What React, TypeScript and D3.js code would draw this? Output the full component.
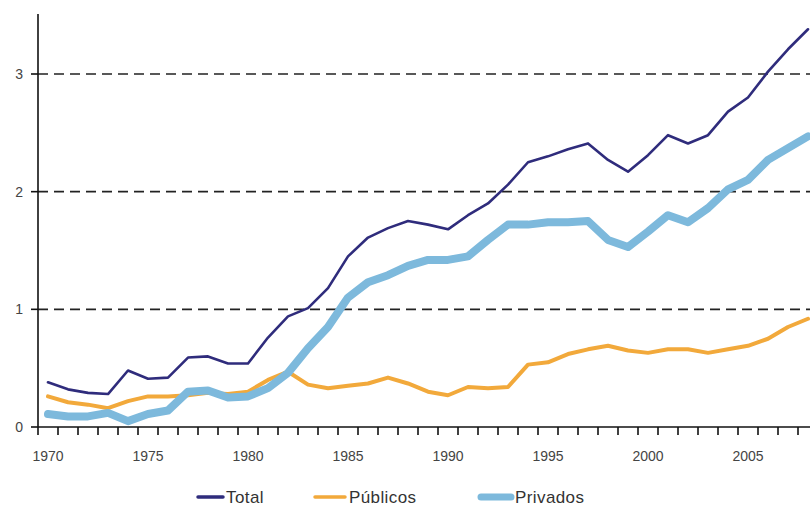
import React from "react";
import * as d3 from "d3";

const years = d3.range(1970, 2009);
const total = [0.38, 0.32, 0.29, 0.28, 0.48, 0.41, 0.42, 0.59, 0.6, 0.54, 0.54, 0.76, 0.94, 1.01, 1.18, 1.45, 1.61, 1.69, 1.75, 1.72, 1.68, 1.8, 1.9, 2.06, 2.25, 2.3, 2.36, 2.41, 2.27, 2.17, 2.31, 2.48, 2.41, 2.48, 2.68, 2.8, 3.02, 3.21, 3.38];
const publicos = [0.26, 0.21, 0.19, 0.16, 0.22, 0.26, 0.26, 0.27, 0.29, 0.28, 0.3, 0.4, 0.47, 0.36, 0.33, 0.35, 0.37, 0.42, 0.37, 0.3, 0.27, 0.34, 0.33, 0.34, 0.53, 0.55, 0.62, 0.66, 0.69, 0.65, 0.63, 0.66, 0.66, 0.63, 0.66, 0.69, 0.75, 0.85, 0.92];
const privados = [0.11, 0.09, 0.09, 0.12, 0.05, 0.11, 0.14, 0.3, 0.31, 0.25, 0.26, 0.33, 0.46, 0.67, 0.85, 1.1, 1.23, 1.29, 1.37, 1.42, 1.42, 1.45, 1.59, 1.72, 1.72, 1.74, 1.74, 1.75, 1.59, 1.53, 1.66, 1.8, 1.74, 1.86, 2.02, 2.1, 2.27, 2.37, 2.47];
const yTicks = [0, 1, 2, 3];
const xLabels = [1970, 1975, 1980, 1985, 1990, 1995, 2000, 2005];

const series = [
  { name: "Total", values: total, color: "#2f2c7c", width: 2.6, legendWidth: 3.5 },
  { name: "Públicos", values: publicos, color: "#f2a93b", width: 4, legendWidth: 3.5 },
  { name: "Privados", values: privados, color: "#7db9dc", width: 8, legendWidth: 7 },
];
const drawOrder = [1, 2, 0];
const legendX = [198, 315, 481];

export default function App() {
  const W = 810, H = 508;
  const x = d3.scaleLinear().domain([1970, 2008]).range([48, 808]);
  const y = d3.scaleLinear().domain([0, 3]).range([427, 74]);
  const axisX = x(1969.5);
  const font = "'Liberation Sans', Arial, sans-serif";

  return (
    <svg width={W} height={H} style={{ position: "absolute", left: 0, top: 0, background: "#fff" }}>
      {yTicks.filter((t) => t > 0).map((t) => (
        <line key={"g" + t} x1={axisX} x2={W} y1={y(t)} y2={y(t)} stroke="#222" strokeWidth={1.6} strokeDasharray="10,6" />
      ))}
      {drawOrder.map((i) => {
        const s = series[i];
        const line = d3.line<number>().x((_, k) => x(years[k])).y((v) => y(v)).curve(d3.curveLinear);
        return (
          <path key={s.name} d={line(s.values) || ""} fill="none" stroke={s.color} strokeWidth={s.width} strokeLinejoin="round" strokeLinecap="round" />
        );
      })}
      <line x1={axisX} x2={axisX} y1={14} y2={y(0)} stroke="#111" strokeWidth={1.6} />
      <line x1={axisX} x2={W} y1={y(0)} y2={y(0)} stroke="#111" strokeWidth={1.6} />
      {yTicks.map((t) => (
        <g key={"yt" + t}>
          <line x1={axisX - 7} x2={axisX} y1={y(t)} y2={y(t)} stroke="#111" strokeWidth={1.6} />
          <text x={axisX - 15} y={y(t)} dy="0.35em" textAnchor="end" fontFamily={font} fontSize={14} fill="#444">{t}</text>
        </g>
      ))}
      {years.map((yr) => (
        <line key={"xt" + yr} x1={x(yr - 0.5)} x2={x(yr - 0.5)} y1={y(0)} y2={y(0) + 8} stroke="#111" strokeWidth={1.6} />
      ))}
      {xLabels.map((yr) => (
        <text key={"xl" + yr} x={x(yr)} y={461} textAnchor="middle" fontFamily={font} fontSize={14} fill="#444">{yr}</text>
      ))}
      {series.map((s, i) => (
        <g key={"lg" + s.name}>
          <line x1={legendX[i]} x2={legendX[i] + (i === 0 ? 25 : 30)} y1={497} y2={497} stroke={s.color} strokeWidth={s.legendWidth} strokeLinecap="round" />
          <text x={legendX[i] + (i === 0 ? 28 : 34)} y={497} dy="0.35em" fontFamily={font} fontSize={17} letterSpacing={0.4} fill="#333">{s.name}</text>
        </g>
      ))}
    </svg>
  );
}
